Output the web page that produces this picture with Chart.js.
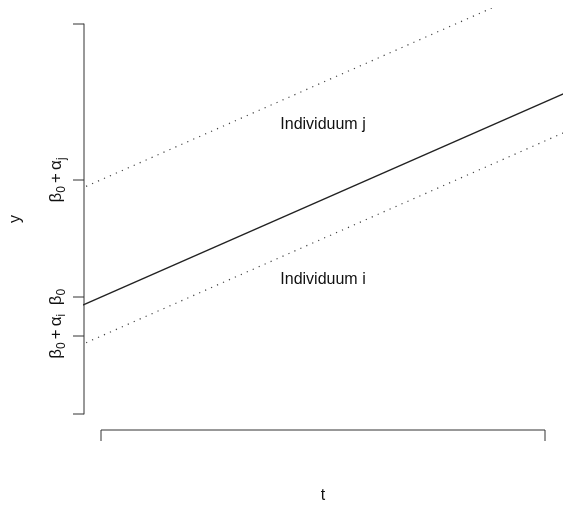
<!DOCTYPE html>
<html lang="de">
<head>
    <meta charset="UTF-8">
    <title>Individuen</title>
    <script src="https://cdn.jsdelivr.net/npm/chart.js"></script>
    <style>
        body { margin: 0; background: #fff; }
    </style>
</head>
<body>
    <canvas id="chart" width="563" height="507"></canvas>

    <script>
        // Geraden (abline), Endpunkte ausserhalb, werden auf den Plotbereich geschnitten
        const tPoints = [-0.1, 1.1];
        const lineBase = [2.5, 8.5];   // beta0
        const lineJ = [5.5, 11.5];     // beta0 + alpha_j
        const lineI = [1.5, 7.5];      // beta0 + alpha_i

        const yTickValues = [0, 2, 3, 6, 10];
        const yTickLabels = ['', 'β_0 + α_i', 'β_0', 'β_0 + α_j', ''];
        const xTickValues = [0, 1];

        const noteTexts = ['Individuum j', 'Individuum i'];
        const noteT = [0.5, 0.5];
        const noteY = [7.42, 3.44];

        const FONT = '"Liberation Sans", Arial, sans-serif';

        function toPoints(ys) {
            return tPoints.map((t, i) => ({ x: t, y: ys[i] }));
        }

        // text with "_x" subscripts, drawn centered at current origin
        function drawMath(ctx, label, size) {
            const parts = [];
            for (let i = 0; i < label.length; i++) {
                if (label[i] === '_') { parts.push({ s: label[i + 1], sub: true }); i++; }
                else if (label[i] === ' ') parts.push({ s: ' ', sub: false, gap: true });
                else parts.push({ s: label[i], sub: false });
            }
            const subSize = Math.round(size * 0.7);
            let w = 0;
            parts.forEach(p => {
                ctx.font = (p.sub ? subSize : size) + 'px ' + FONT;
                p.w = p.gap ? size * 0.18 : ctx.measureText(p.s).width;
                w += p.w;
            });
            let x = -w / 2;
            parts.forEach(p => {
                ctx.font = (p.sub ? subSize : size) + 'px ' + FONT;
                if (!p.gap) ctx.fillText(p.s, x, p.sub ? size * 0.22 : 0);
                x += p.w;
            });
        }

        const axesPlugin = {
            id: 'rAxes',
            afterDraw(chart) {
                const ctx = chart.ctx;
                const xs = chart.scales.x, ys = chart.scales.y;
                const area = chart.chartArea;
                ctx.save();
                ctx.strokeStyle = '#333';
                ctx.fillStyle = '#111';
                ctx.lineWidth = 1;

                // y axis
                const ax = Math.round(area.left) + 1;
                ctx.beginPath();
                ctx.moveTo(ax, ys.getPixelForValue(yTickValues[0]));
                ctx.lineTo(ax, ys.getPixelForValue(yTickValues[yTickValues.length - 1]));
                yTickValues.forEach(v => {
                    const py = Math.round(ys.getPixelForValue(v));
                    ctx.moveTo(ax, py);
                    ctx.lineTo(ax - 11, py);
                });
                ctx.stroke();

                yTickLabels.forEach((lab, i) => {
                    if (!lab) return;
                    ctx.save();
                    ctx.translate(61, ys.getPixelForValue(yTickValues[i]));
                    ctx.rotate(-Math.PI / 2);
                    ctx.textBaseline = 'alphabetic';
                    drawMath(ctx, lab, 17);
                    ctx.restore();
                });

                // x axis
                const ay = Math.round(area.bottom);
                const x0 = Math.round(xs.getPixelForValue(xTickValues[0]));
                const x1 = Math.round(xs.getPixelForValue(xTickValues[1]));
                ctx.beginPath();
                ctx.moveTo(x0, ay + 11);
                ctx.lineTo(x0, ay);
                ctx.lineTo(x1, ay);
                ctx.lineTo(x1, ay + 11);
                ctx.stroke();

                // annotations
                ctx.font = '16px ' + FONT;
                ctx.textAlign = 'center';
                ctx.textBaseline = 'middle';
                noteTexts.forEach((txt, i) => {
                    ctx.fillText(txt, xs.getPixelForValue(noteT[i]), ys.getPixelForValue(noteY[i]));
                });

                // axis titles
                ctx.textBaseline = 'alphabetic';
                ctx.fillText('t', (area.left + area.right) / 2, 500);
                ctx.save();
                ctx.translate(20, (area.top + area.bottom) / 2);
                ctx.rotate(-Math.PI / 2);
                ctx.fillText('y', 0, 0);
                ctx.restore();

                ctx.restore();
            }
        };

        const ctx = document.getElementById('chart').getContext('2d');
        new Chart(ctx, {
            type: 'line',
            data: {
                datasets: [
                    {
                        data: toPoints(lineBase),
                        borderColor: '#222',
                        borderWidth: 1.4
                    },
                    {
                        data: toPoints(lineJ),
                        borderColor: '#444',
                        borderWidth: 1.2,
                        borderDash: [1.2, 5.3]
                    },
                    {
                        data: toPoints(lineI),
                        borderColor: '#444',
                        borderWidth: 1.2,
                        borderDash: [1.2, 5.3]
                    }
                ]
            },
            options: {
                responsive: false,
                animation: false,
                layout: { padding: { left: 83, top: 8, right: -1, bottom: 77 } },
                elements: { point: { radius: 0 } },
                plugins: { legend: { display: false }, tooltip: { enabled: false } },
                scales: {
                    x: { type: 'linear', min: -0.04, max: 1.04, display: false },
                    y: { type: 'linear', min: -0.4, max: 10.4, display: false }
                }
            },
            plugins: [axesPlugin]
        });
    </script>
</body>
</html>
